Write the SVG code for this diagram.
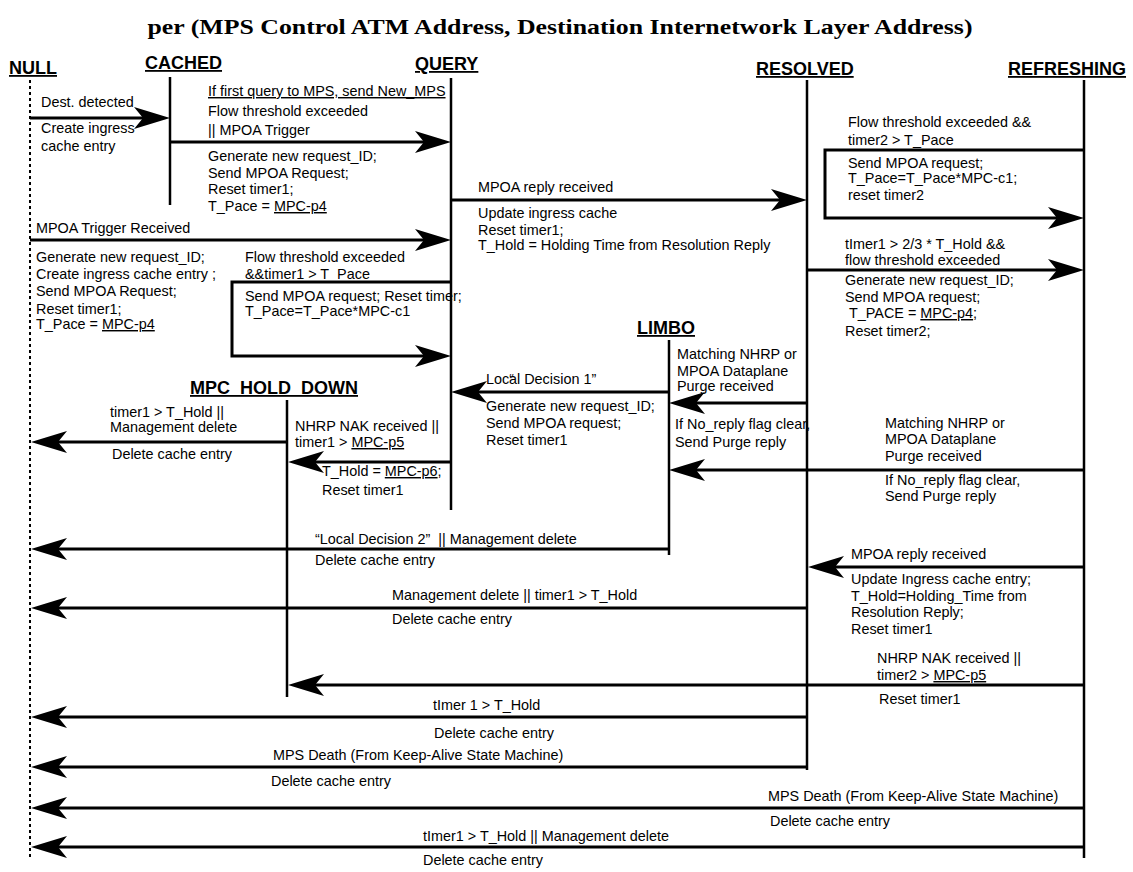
<svg xmlns="http://www.w3.org/2000/svg" width="1133" height="872" viewBox="0 0 1133 872">
<style>
.title{font-family:"Liberation Serif","Times New Roman",serif;font-weight:bold;font-size:21px;fill:#000}
.h{font-family:"Liberation Sans",Arial,sans-serif;font-weight:bold;font-size:18px;text-decoration:underline;fill:#000}
.t{font-family:"Liberation Sans",Arial,sans-serif;font-size:14.4px;fill:#000}
.u{text-decoration:underline}
.life{stroke:#000;stroke-width:2.5;fill:none}
.dot{stroke:#000;stroke-width:2;stroke-dasharray:3 3;fill:none}
.arr{stroke:#000;stroke-width:3;fill:none;marker-end:url(#ah)}
</style>
<defs>
<marker id="ah" markerUnits="userSpaceOnUse" markerWidth="40" markerHeight="26" viewBox="0 -13 40 26" refX="9" refY="0" orient="auto" overflow="visible">
<path d="M0,-11 L36,0 L0,11 L9,0 Z" fill="#000"/>
</marker>
</defs>
<rect width="1133" height="872" fill="#fff"/>
<text class="title" x="560" y="34" text-anchor="middle" textLength="825" lengthAdjust="spacingAndGlyphs">per (MPS Control ATM Address, Destination Internetwork Layer Address)</text>

<g id="node-null"><text class="h" x="9" y="74">NULL</text><line class="dot" x1="30" y1="80" x2="30" y2="858"/></g>
<g id="node-cached"><text class="h" x="145" y="69">CACHED</text><line class="life" x1="170" y1="77" x2="170" y2="205"/></g>
<g id="node-query"><text class="h" x="415" y="70">QUERY</text><line class="life" x1="451" y1="78" x2="451" y2="510"/></g>
<g id="node-resolved"><text class="h" x="756" y="75">RESOLVED</text><line class="life" x1="807" y1="80" x2="807" y2="770"/></g>
<g id="node-refreshing"><text class="h" x="1008" y="75">REFRESHING</text><line class="life" x1="1084" y1="80" x2="1084" y2="858"/></g>
<g id="node-limbo"><text class="h" x="637" y="334">LIMBO</text><line class="life" x1="669" y1="340" x2="669" y2="555"/></g>
<g id="node-mpc-hold-down"><text class="h" x="190" y="394">MPC_HOLD_DOWN</text><line class="life" x1="287" y1="400" x2="287" y2="697"/></g>

<g id="connectors">
<g id="c1"><line class="arr" x1="30" y1="118" x2="143" y2="118"/>
<text class="t" x="41" y="107">Dest. detected</text><text class="t" x="41" y="133">Create ingress</text><text class="t" x="41" y="151">cache entry</text></g>

<g id="c2"><line class="arr" x1="170" y1="142" x2="424" y2="142"/>
<text class="t u" x="208" y="96">If first query to MPS, send New_MPS</text>
<text class="t" x="208" y="116">Flow threshold exceeded</text><text class="t" x="208" y="135">|| MPOA Trigger</text>
<text class="t" x="208" y="161">Generate new request_ID;</text><text class="t" x="208" y="178">Send MPOA Request;</text><text class="t" x="208" y="194">Reset timer1;</text><text class="t" x="208" y="211">T_Pace = <tspan class="u">MPC-p4</tspan></text></g>

<g id="c3"><line class="arr" x1="30" y1="240" x2="424" y2="240"/>
<text class="t" x="36" y="233">MPOA Trigger Received</text>
<text class="t" x="36" y="262">Generate new request_ID;</text><text class="t" x="36" y="279">Create ingress cache entry ;</text><text class="t" x="36" y="296">Send MPOA Request;</text><text class="t" x="36" y="314">Reset timer1;</text><text class="t" x="36" y="329">T_Pace = <tspan class="u">MPC-p4</tspan></text></g>

<g id="c4"><polyline class="arr" points="451,282 232,282 232,356 424,356"/>
<text class="t" x="245" y="262">Flow threshold exceeded</text><text class="t" x="245" y="279">&amp;&amp;timer1 &gt; T_Pace</text>
<text class="t" x="245" y="301">Send MPOA request; Reset timer;</text><text class="t" x="245" y="316">T_Pace=T_Pace*MPC-c1</text></g>

<g id="c5"><line class="arr" x1="451" y1="200" x2="780" y2="200"/>
<text class="t" x="478" y="192">MPOA reply received</text>
<text class="t" x="478" y="218">Update ingress cache</text><text class="t" x="478" y="235">Reset timer1;</text><text class="t" x="478" y="250">T_Hold = Holding Time from Resolution Reply</text></g>

<g id="c6"><polyline class="arr" points="1084,150 825,150 825,218 1057,218"/>
<text class="t" x="848" y="127">Flow threshold exceeded &amp;&amp;</text><text class="t" x="848" y="145">timer2 &gt; T_Pace</text>
<text class="t" x="848" y="168">Send MPOA request;</text><text class="t" x="848" y="183">T_Pace=T_Pace*MPC-c1;</text><text class="t" x="848" y="200">reset timer2</text></g>

<g id="c7"><line class="arr" x1="807" y1="270" x2="1057" y2="270"/>
<text class="t" x="845" y="249">tImer1 &gt; 2/3 * T_Hold &amp;&amp;</text><text class="t" x="845" y="265">flow threshold exceeded</text>
<text class="t" x="845" y="285">Generate new request_ID;</text><text class="t" x="845" y="302">Send MPOA request;</text><text class="t" x="849" y="318">T_PACE = <tspan class="u">MPC-p4</tspan>;</text><text class="t" x="845" y="336">Reset timer2;</text></g>

<g id="c8"><line class="arr" x1="669" y1="392" x2="478" y2="392"/>
<text class="t" x="486" y="384">Loc“<tspan dx="-5">al Decision 1”</tspan></text>
<text class="t" x="486" y="411">Generate new request_ID;</text><text class="t" x="486" y="428">Send MPOA request;</text><text class="t" x="486" y="445">Reset timer1</text></g>

<g id="c9"><line class="arr" x1="807" y1="403" x2="696" y2="403"/>
<text class="t" x="677" y="359">Matching NHRP or</text><text class="t" x="677" y="376">MPOA Dataplane</text><text class="t" x="677" y="391">Purge received</text>
<text class="t" x="675" y="429">If No_reply flag clear,</text><text class="t" x="675" y="447">Send Purge reply</text></g>

<g id="c10"><line class="arr" x1="1084" y1="470" x2="696" y2="470"/>
<text class="t" x="885" y="428">Matching NHRP or</text><text class="t" x="885" y="444">MPOA Dataplane</text><text class="t" x="885" y="461">Purge received</text>
<text class="t" x="885" y="485">If No_reply flag clear,</text><text class="t" x="885" y="501">Send Purge reply</text></g>

<g id="c11"><line class="arr" x1="287" y1="442" x2="58" y2="442"/>
<text class="t" x="110" y="417">timer1 &gt; T_Hold ||</text><text class="t" x="110" y="432">Management delete</text>
<text class="t" x="112" y="459">Delete cache entry</text></g>

<g id="c12"><line class="arr" x1="451" y1="462" x2="315" y2="462"/>
<text class="t" x="295" y="431">NHRP NAK received ||</text><text class="t" x="295" y="447">timer1 &gt; <tspan class="u">MPC-p5</tspan></text>
<text class="t" x="322" y="476">T_Hold = <tspan class="u">MPC-p6</tspan>;</text><text class="t" x="322" y="495">Reset timer1</text></g>

<g id="c13"><line class="arr" x1="669" y1="549" x2="58" y2="549"/>
<text class="t" x="315" y="544">“Local Decision 2” &#160;|| Management delete</text>
<text class="t" x="315" y="565">Delete cache entry</text></g>

<g id="c14"><line class="arr" x1="1084" y1="567" x2="835" y2="567"/>
<text class="t" x="851" y="559">MPOA reply received</text>
<text class="t" x="851" y="584">Update Ingress cache entry;</text><text class="t" x="851" y="601">T_Hold=Holding_Time from</text><text class="t" x="851" y="617">Resolution Reply;</text><text class="t" x="851" y="634">Reset timer1</text></g>

<g id="c15"><line class="arr" x1="807" y1="608" x2="58" y2="608"/>
<text class="t" x="392" y="600">Management delete || timer1 &gt; T_Hold</text>
<text class="t" x="392" y="624">Delete cache entry</text></g>

<g id="c16"><line class="arr" x1="1084" y1="685" x2="315" y2="685"/>
<text class="t" x="877" y="663">NHRP NAK received ||</text><text class="t" x="877" y="680">timer2 &gt; <tspan class="u">MPC-p5</tspan></text>
<text class="t" x="879" y="704">Reset timer1</text></g>

<g id="c17"><line class="arr" x1="807" y1="717" x2="58" y2="717"/>
<text class="t" x="433" y="710">tImer 1 &gt; T_Hold</text>
<text class="t" x="434" y="738">Delete cache entry</text></g>

<g id="c18"><line class="arr" x1="807" y1="767" x2="58" y2="767"/>
<text class="t" x="273" y="760">MPS Death (From Keep-Alive State Machine)</text>
<text class="t" x="271" y="786">Delete cache entry</text></g>

<g id="c19"><line class="arr" x1="1084" y1="808" x2="58" y2="808"/>
<text class="t" x="768" y="801">MPS Death (From Keep-Alive State Machine)</text>
<text class="t" x="770" y="826">Delete cache entry</text></g>

<g id="c20"><line class="arr" x1="1084" y1="847" x2="58" y2="847"/>
<text class="t" x="423" y="841">tImer1 &gt; T_Hold || Management delete</text>
<text class="t" x="423" y="865">Delete cache entry</text></g>
</g>
</svg>
